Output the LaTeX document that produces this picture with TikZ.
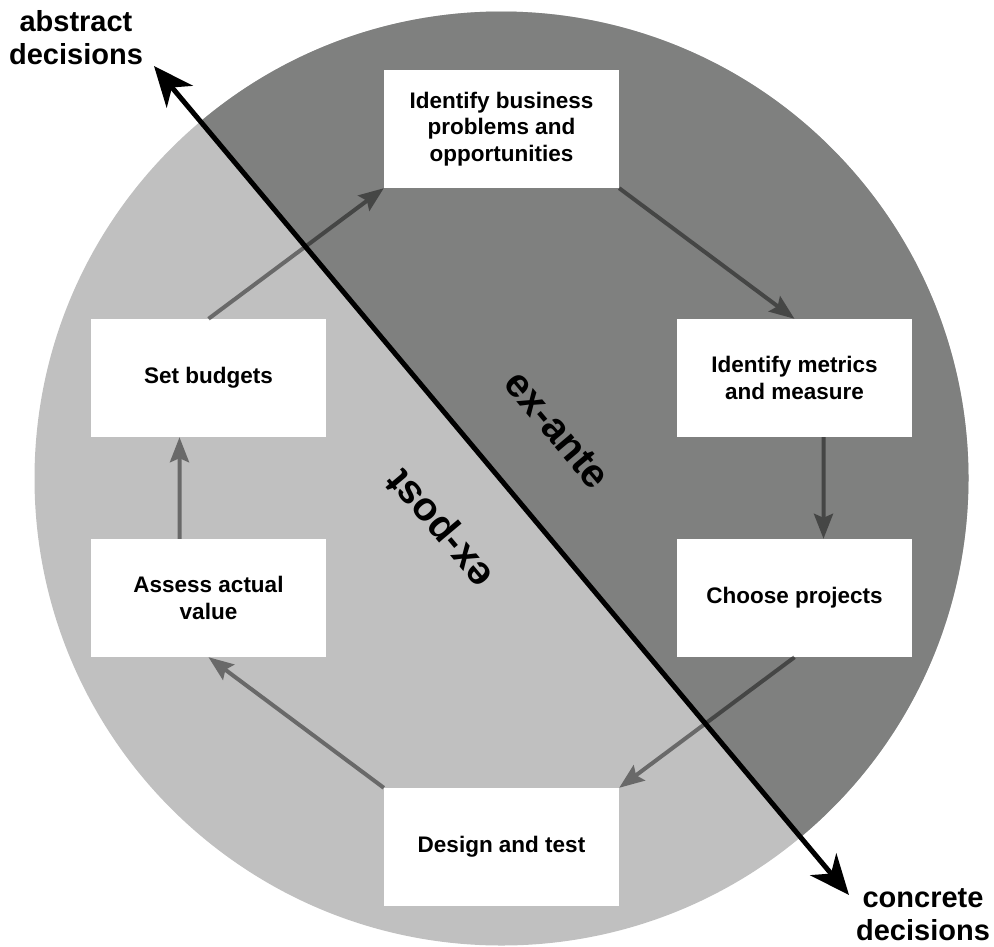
\documentclass[tikz,border=0pt]{standalone}
\usepackage{fontspec}
\setmainfont{Liberation Sans}
\usepackage{xcolor}
\usetikzlibrary{arrows.meta,positioning}

\definecolor{expost}{HTML}{C0C0C0}
\definecolor{exante}{HTML}{7F807F}

\begin{document}
\begin{tikzpicture}[
    x=1pt, y=1pt,
    stage/.style={rectangle, fill=white, minimum width=235pt, minimum height=118pt,
        inner sep=0pt, align=center, font=\bfseries\fontsize{22.5}{26.5}\selectfont},
    flow/.style={line width=4pt, draw=black,
        -{Stealth[length=25pt, width=19pt, inset=4pt]}},
    axis/.style={line width=5pt,
        {Stealth[length=40pt, width=34pt, inset=12pt]}-{Stealth[length=40pt, width=34pt, inset=12pt]}},
    side/.style={font=\bfseries\fontsize{40}{48}\selectfont},
    pole/.style={align=center, font=\bfseries\fontsize{29}{33}\selectfont}
]
    \useasboundingbox (0,0) rectangle (994,-946);

    % the disc, split along the axis
    \coordinate (c) at (501.5,-478.5);
    \fill[expost] (c) circle[radius=467];
    \fill[exante] (c) -- ++(130:467) arc[start angle=130, end angle=-50, radius=467] -- cycle;

    % stages of the cycle
    \node[stage] (problems) at (501.5,-129) {Identify business\\problems and\\opportunities};
    \node[stage] (metrics)  at (794.5,-378) {Identify metrics\\and measure};
    \node[stage] (choose)   at (794.5,-598) {Choose projects};
    \node[stage] (design)   at (501.5,-847) {Design and test};
    \node[stage] (assess)   at (208.5,-598) {Assess actual\\value};
    \node[stage] (budgets)  at (208.5,-378) {Set budgets};

    % see-through arrows, so they darken with the background
    \begin{scope}[transparency group, opacity=0.45]
        \draw[flow] (budgets.north) -- (problems.south west);
        \draw[flow] (problems.south east) -- (metrics.north);
        \draw[flow] ([xshift=29pt]metrics.south) -- ([xshift=29pt]choose.north);
        \draw[flow] (choose.south) -- (design.north east);
        \draw[flow] (design.north west) -- (assess.south);
        \draw[flow] ([xshift=-29pt]assess.north) -- ([xshift=-29pt]budgets.south);
    \end{scope}

    % halves
    \node[side, rotate=-50] (exante) at (557,-430) {ex-ante};
    \node[side, rotate=130] (expost) at (442,-527) {ex-post};

    % axis from abstract to concrete
    \node[pole] (abstract) at (76,-37.5) {abstract\\decisions};
    \node[pole] (concrete) at (923,-915) {concrete\\decisions};
    \coordinate (abstracttip) at (154,-66);
    \coordinate (concretetip) at (849,-895);
    \draw[axis] (abstracttip) -- (concretetip);
\end{tikzpicture}
\end{document}
